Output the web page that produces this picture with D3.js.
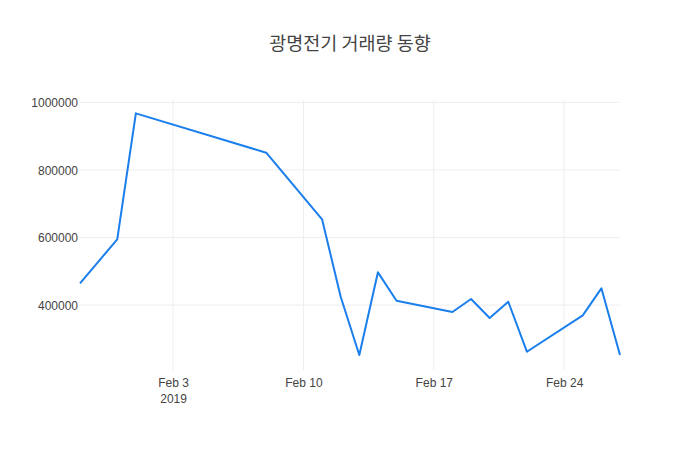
<!DOCTYPE html>
<html>
<head>
<meta charset="utf-8">
<script src="https://cdn.jsdelivr.net/npm/d3@7"></script>
<style>
  body { margin: 0; background: #fff; }
  svg { font-family: "Open Sans", "Noto Sans CJK KR", sans-serif; }
  .tick text { fill: #444; font-size: 12px; }
</style>
</head>
<body>
<svg width="700" height="450"></svg>
<script>
// trading days and volumes
const dates = [
  "2019-01-29", "2019-01-31", "2019-02-01", "2019-02-08", "2019-02-11",
  "2019-02-12", "2019-02-13", "2019-02-14", "2019-02-15", "2019-02-18",
  "2019-02-19", "2019-02-20", "2019-02-21", "2019-02-22", "2019-02-25",
  "2019-02-26", "2019-02-27"
];
const volumes = [
  464500, 594700, 967500, 851000, 653800,
  424900, 252400, 497000, 413000, 379600,
  418000, 361800, 410000, 262100, 369800,
  449700, 252400
];
const yTicks = [400000, 600000, 800000, 1000000];
const xTicks = ["2019-02-03", "2019-02-10", "2019-02-17", "2019-02-24"];
const title = "광명전기 거래량 동향";

const parse = d3.timeParse("%Y-%m-%d");
const points = dates.map((d, i) => ({ date: parse(d), value: volumes[i] }));

const svg = d3.select("svg"),
      margin = {top: 100, right: 80, bottom: 80, left: 80},
      width = 700,
      height = 450;

const x = d3.scaleTime()
    .domain(d3.extent(points, d => d.date))
    .range([margin.left, width - margin.right]);

const y = d3.scaleLinear()
    .domain([208000, 1007000])
    .range([height - margin.bottom, margin.top]);

// gridlines
svg.append("g")
    .selectAll("line")
    .data(xTicks.map(parse))
    .join("line")
    .attr("x1", d => x(d)).attr("x2", d => x(d))
    .attr("y1", margin.top).attr("y2", height - margin.bottom)
    .attr("stroke", "#eee");

svg.append("g")
    .selectAll("line")
    .data(yTicks)
    .join("line")
    .attr("x1", margin.left).attr("x2", width - margin.right)
    .attr("y1", d => y(d)).attr("y2", d => y(d))
    .attr("stroke", "#eee");

// y axis labels
const yAxis = svg.append("g")
    .attr("transform", `translate(${margin.left},0)`)
    .call(d3.axisLeft(y).tickValues(yTicks).tickFormat(d3.format("d")).tickSize(0).tickPadding(2));
yAxis.select(".domain").remove();
yAxis.selectAll("text").attr("dy", "0.35em");

// x axis labels
const xAxis = svg.append("g")
    .attr("transform", `translate(0,${height - margin.bottom})`)
    .call(d3.axisBottom(x).tickValues(xTicks.map(parse)).tickFormat(d3.timeFormat("%b %-d")).tickSize(0).tickPadding(8));
xAxis.select(".domain").remove();
xAxis.selectAll(".tick")
    .filter((d, i) => i === 0)
    .append("text")
    .attr("y", 24)
    .attr("dy", "0.71em")
    .attr("fill", "#444")
    .style("font-size", "12px")
    .attr("text-anchor", "middle")
    .text("2019");

// line
svg.append("path")
    .datum(points)
    .attr("fill", "none")
    .attr("stroke", "#1a7fec")
    .attr("stroke-width", 2)
    .attr("stroke-linejoin", "round")
    .attr("d", d3.line().x(d => x(d.date)).y(d => y(d.value)));

svg.append("text")
    .attr("x", width / 2)
    .attr("y", 50)
    .attr("text-anchor", "middle")
    .attr("fill", "#444")
    .style("font-size", "18.5px")
    .style("font-family", "'Noto Sans CJK KR', 'Open Sans', sans-serif")
    .text(title);
</script>
</body>
</html>
